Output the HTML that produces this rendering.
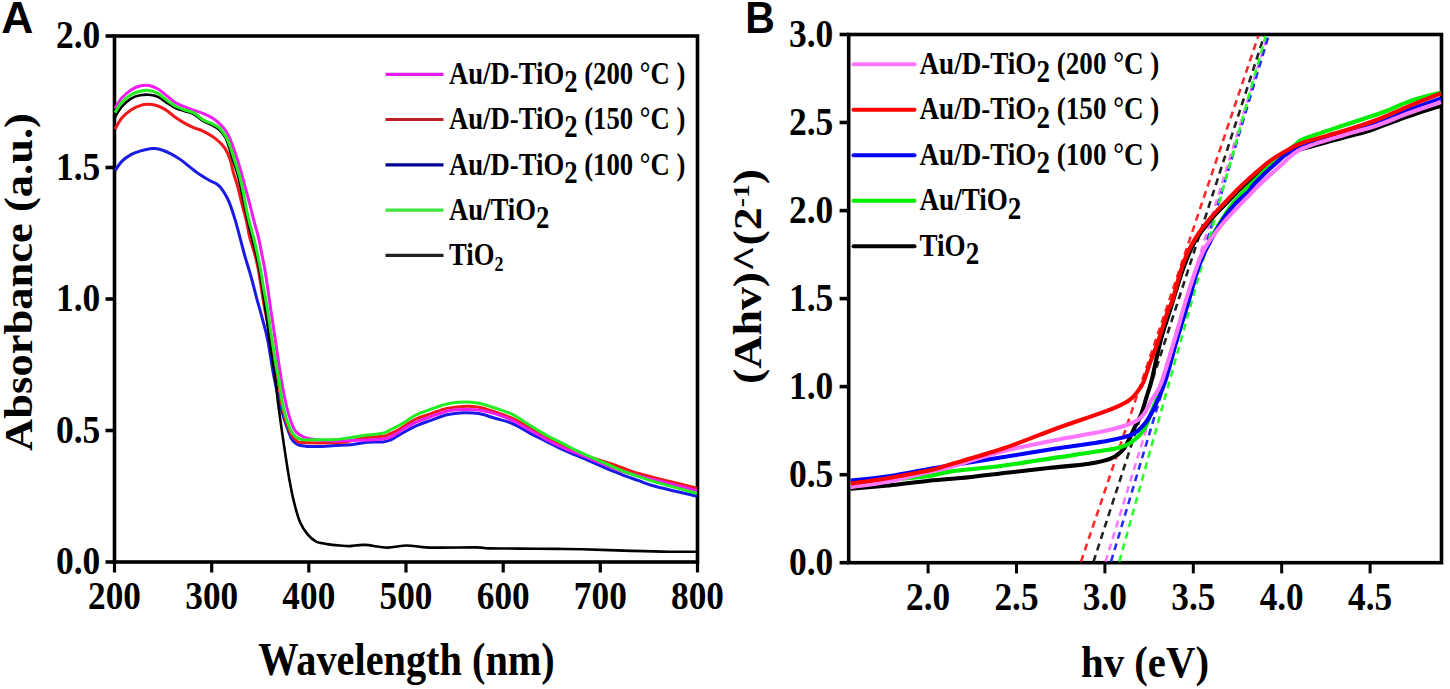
<!DOCTYPE html><html><head><meta charset="utf-8"><style>html,body{margin:0;padding:0;background:#fff;}svg{display:block;}</style></head><body>
<svg width="1450" height="689" viewBox="0 0 1450 689">
<text transform="translate(1.2 33.3) scale(1.085 1.08)" font-family="Liberation Sans" font-weight="bold" font-size="41" >A</text>
<text transform="translate(745.3 33.3) scale(1.0 1.08)" font-family="Liberation Sans" font-weight="bold" font-size="41" >B</text>
<g stroke="#000" stroke-width="3.6" fill="none" stroke-linecap="butt">
<rect x="114.5" y="36.0" width="583.0" height="526.0"/>
<line x1="105.5" y1="562.0" x2="114.5" y2="562.0"/>
<line x1="105.5" y1="430.5" x2="114.5" y2="430.5"/>
<line x1="105.5" y1="299.0" x2="114.5" y2="299.0"/>
<line x1="105.5" y1="167.5" x2="114.5" y2="167.5"/>
<line x1="105.5" y1="36.0" x2="114.5" y2="36.0"/>
<line x1="114.5" y1="562.0" x2="114.5" y2="572.5" stroke-width="3.2"/>
<line x1="211.7" y1="562.0" x2="211.7" y2="572.5" stroke-width="3.2"/>
<line x1="308.8" y1="562.0" x2="308.8" y2="572.5" stroke-width="3.2"/>
<line x1="406.0" y1="562.0" x2="406.0" y2="572.5" stroke-width="3.2"/>
<line x1="503.2" y1="562.0" x2="503.2" y2="572.5" stroke-width="3.2"/>
<line x1="600.3" y1="562.0" x2="600.3" y2="572.5" stroke-width="3.2"/>
<line x1="697.5" y1="562.0" x2="697.5" y2="572.5" stroke-width="3.2"/>
</g>
<text transform="translate(100.3 574.0) scale(1.000 1.120)" font-family="Liberation Serif" font-weight="bold" font-size="35.5" text-anchor="end">0.0</text>
<text transform="translate(100.3 442.5) scale(1.000 1.120)" font-family="Liberation Serif" font-weight="bold" font-size="35.5" text-anchor="end">0.5</text>
<text transform="translate(100.3 311.0) scale(1.000 1.120)" font-family="Liberation Serif" font-weight="bold" font-size="35.5" text-anchor="end">1.0</text>
<text transform="translate(100.3 179.5) scale(1.000 1.120)" font-family="Liberation Serif" font-weight="bold" font-size="35.5" text-anchor="end">1.5</text>
<text transform="translate(100.3 48.0) scale(1.000 1.120)" font-family="Liberation Serif" font-weight="bold" font-size="35.5" text-anchor="end">2.0</text>
<text transform="translate(114.5 609.3) scale(1.000 1.120)" font-family="Liberation Serif" font-weight="bold" font-size="35.3" text-anchor="middle">200</text>
<text transform="translate(211.7 609.3) scale(1.000 1.120)" font-family="Liberation Serif" font-weight="bold" font-size="35.3" text-anchor="middle">300</text>
<text transform="translate(308.8 609.3) scale(1.000 1.120)" font-family="Liberation Serif" font-weight="bold" font-size="35.3" text-anchor="middle">400</text>
<text transform="translate(406.0 609.3) scale(1.000 1.120)" font-family="Liberation Serif" font-weight="bold" font-size="35.3" text-anchor="middle">500</text>
<text transform="translate(503.2 609.3) scale(1.000 1.120)" font-family="Liberation Serif" font-weight="bold" font-size="35.3" text-anchor="middle">600</text>
<text transform="translate(600.3 609.3) scale(1.000 1.120)" font-family="Liberation Serif" font-weight="bold" font-size="35.3" text-anchor="middle">700</text>
<text transform="translate(697.5 609.3) scale(1.000 1.120)" font-family="Liberation Serif" font-weight="bold" font-size="35.3" text-anchor="middle">800</text>
<text transform="translate(406.5 675.0) scale(1.000 1.150)" font-family="Liberation Serif" font-weight="bold" font-size="40.3" text-anchor="middle">Wavelength (nm)</text>
<g transform="translate(32 282) rotate(-90)"><text transform="translate(0.0 0.0) scale(1.100 1.000)" font-family="Liberation Serif" font-weight="bold" font-size="40.5" text-anchor="middle">Absorbance (a.u.)</text></g>
<g fill="none" stroke-width="3.0" stroke-linejoin="round">
<path d="M115.0 170.7 C116.2 169.1 119.3 163.8 122.0 161.1 C124.7 158.4 128.0 156.3 131.0 154.6 C134.0 152.9 137.0 152.0 140.0 151.1 C143.0 150.2 146.5 149.3 149.0 148.9 C151.5 148.5 152.6 148.3 154.9 148.5 C157.2 148.7 159.9 149.3 162.7 150.2 C165.4 151.1 168.5 152.6 171.4 154.1 C174.3 155.6 176.3 156.7 180.1 159.4 C183.9 162.1 190.7 167.7 194.0 170.2 C197.3 172.7 197.2 172.8 199.8 174.5 C202.4 176.2 206.7 178.9 209.6 180.5 C212.5 182.1 215.0 182.7 217.2 184.3 C219.4 185.9 221.0 187.9 222.7 190.3 C224.4 192.7 226.1 195.7 227.5 198.5 C228.9 201.3 229.7 203.2 231.0 207.0 C232.3 210.8 234.1 216.2 235.6 221.3 C237.1 226.4 238.6 232.2 240.0 237.7 C241.4 243.1 242.8 248.6 244.3 254.0 C245.8 259.4 247.8 265.7 249.2 270.4 C250.6 275.1 251.3 277.6 252.5 282.0 C253.7 286.4 254.7 290.7 256.3 296.8 C257.9 302.9 260.4 311.3 262.3 318.6 C264.2 325.9 265.9 330.7 267.8 340.4 C269.8 350.1 271.7 365.4 274.0 377.0 C276.3 388.6 279.2 401.4 281.5 410.0 C283.8 418.6 285.7 423.8 287.6 428.9 C289.5 434.0 290.7 438.1 293.1 440.9 C295.5 443.7 297.8 444.8 301.9 445.7 C306.0 446.6 312.4 446.5 317.9 446.5 C323.4 446.5 329.5 445.8 335.0 445.5 C340.5 445.2 345.7 445.2 351.0 444.7 C356.3 444.2 361.6 442.8 366.9 442.3 C372.2 441.8 378.9 442.3 382.9 441.9 C386.9 441.5 388.2 441.0 390.9 439.9 C393.6 438.8 394.9 437.4 398.9 435.1 C402.9 432.8 409.6 428.8 415.0 426.3 C420.4 423.8 425.7 422.2 431.0 420.3 C436.3 418.4 441.6 416.1 446.9 414.8 C452.2 413.6 457.6 413.0 462.9 412.8 C468.2 412.6 473.5 412.7 478.9 413.6 C484.2 414.5 489.4 416.7 495.0 418.3 C500.6 419.9 506.6 421.0 512.4 423.5 C518.2 426.0 524.0 430.1 529.8 433.1 C535.6 436.2 541.4 438.9 547.2 441.8 C553.0 444.7 560.0 448.3 564.6 450.5 C569.2 452.7 570.6 452.9 575.0 454.8 C579.4 456.7 585.7 459.3 591.0 461.6 C596.3 463.9 601.6 466.4 606.9 468.7 C612.2 470.9 617.6 473.1 622.9 475.1 C628.2 477.1 633.5 478.8 638.9 480.7 C644.2 482.6 645.3 483.7 655.0 486.3 C664.7 488.9 690.0 494.6 697.0 496.2" stroke="#1a1ae6"/>
<path d="M115.0 129.1 C116.2 127.2 119.3 121.0 122.0 117.8 C124.7 114.6 128.0 112.0 131.0 110.0 C134.0 108.0 137.0 106.5 140.0 105.6 C143.0 104.6 146.0 104.2 149.0 104.3 C152.0 104.4 155.0 104.9 158.0 106.0 C161.0 107.1 164.0 108.8 167.0 110.8 C170.0 112.8 173.0 115.7 176.0 117.8 C179.0 119.9 182.0 121.7 185.0 123.4 C188.0 125.1 191.0 126.5 194.0 127.8 C197.0 129.1 199.3 129.3 203.0 131.2 C206.7 133.1 212.5 136.3 216.1 139.1 C219.7 141.9 222.4 144.6 224.8 148.1 C227.2 151.6 228.9 155.9 230.3 160.1 C231.8 164.3 232.2 168.6 233.5 173.1 C234.8 177.6 236.5 182.0 237.9 187.3 C239.3 192.6 240.8 199.3 242.2 205.0 C243.6 210.7 245.2 215.9 246.5 221.3 C247.8 226.8 248.4 232.2 249.8 237.7 C251.2 243.1 253.2 248.6 254.7 254.0 C256.1 259.4 256.9 261.4 258.5 270.4 C260.1 279.3 262.4 296.0 264.5 307.7 C266.6 319.4 269.1 328.7 271.3 340.4 C273.6 352.1 276.2 367.4 278.0 378.0 C279.8 388.6 280.4 396.8 281.8 404.0 C283.2 411.2 284.7 416.5 286.2 421.5 C287.7 426.5 289.4 430.9 291.0 434.0 C292.6 437.1 294.1 438.6 296.0 440.0 C297.9 441.4 295.2 442.1 302.5 442.5 C309.8 442.9 331.9 442.8 340.0 442.5 C348.1 442.2 346.5 441.5 351.0 440.7 C355.5 439.9 361.6 438.2 366.9 437.5 C372.2 436.8 378.9 437.0 382.9 436.3 C386.9 435.6 388.2 434.6 390.9 433.5 C393.6 432.4 394.9 431.8 398.9 429.5 C402.9 427.2 409.6 422.1 415.0 419.5 C420.4 416.9 425.7 415.5 431.0 413.6 C436.3 411.8 441.6 409.6 446.9 408.4 C452.2 407.2 457.6 406.6 462.9 406.4 C468.2 406.2 473.5 406.3 478.9 407.2 C484.2 408.1 489.4 410.1 495.0 412.0 C500.6 413.9 506.6 415.7 512.4 418.3 C518.2 420.9 524.0 424.6 529.8 427.9 C535.6 431.2 541.4 435.1 547.2 438.3 C553.0 441.5 560.0 444.8 564.6 447.0 C569.2 449.2 570.6 449.8 575.0 451.5 C579.4 453.2 585.7 455.7 591.0 457.5 C596.3 459.3 601.6 460.6 606.9 462.4 C612.2 464.1 617.6 466.1 622.9 468.0 C628.2 469.9 633.5 471.9 638.9 473.5 C644.2 475.1 645.3 475.4 655.0 477.9 C664.7 480.3 690.0 486.5 697.0 488.2" stroke="#f01818"/>
<path d="M115.0 116.9 C116.2 115.2 119.3 109.5 122.0 106.5 C124.7 103.5 128.0 100.5 131.0 98.6 C134.0 96.7 137.0 95.9 140.0 95.3 C143.0 94.7 146.0 94.4 149.0 94.7 C152.0 95.0 155.0 95.5 158.0 96.9 C161.0 98.3 164.0 101.1 167.0 103.0 C170.0 104.9 173.0 106.8 176.0 108.2 C179.0 109.6 182.0 110.2 185.0 111.2 C188.0 112.2 191.0 112.7 194.0 114.3 C197.0 115.9 199.9 119.1 203.0 121.0 C206.1 122.9 210.1 124.1 212.8 125.5 C215.5 126.9 217.1 127.8 219.0 129.5 C220.9 131.2 222.7 133.6 224.0 135.5 C225.3 137.4 225.7 137.4 227.0 141.0 C228.3 144.6 230.2 151.5 232.0 157.0 C233.8 162.5 235.9 168.3 237.5 174.0 C239.1 179.7 240.3 185.5 241.5 191.0 C242.7 196.5 243.7 201.8 244.8 207.0 C245.9 212.2 246.8 216.8 248.0 222.0 C249.2 227.2 250.7 232.7 252.0 238.0 C253.3 243.3 254.8 248.6 256.0 254.0 C257.2 259.4 257.9 261.4 259.5 270.4 C261.1 279.3 263.6 295.8 265.3 307.7 C267.0 319.6 268.2 330.3 269.8 342.0 C271.4 353.7 273.8 367.2 275.2 377.7 C276.6 388.2 277.2 396.5 278.3 405.0 C279.4 413.5 280.3 419.7 281.6 428.9 C282.9 438.1 284.9 451.4 286.2 460.0 C287.5 468.6 288.3 473.8 289.6 480.7 C290.9 487.6 292.1 494.4 293.8 501.3 C295.5 508.2 297.7 516.5 300.0 522.0 C302.3 527.5 305.0 531.2 307.6 534.4 C310.2 537.6 312.6 539.7 315.8 541.3 C319.0 542.9 322.9 543.4 326.9 544.1 C330.9 544.8 336.2 545.2 340.0 545.5 C343.8 545.8 345.8 546.2 349.9 546.1 C354.0 546.0 358.6 544.6 364.8 544.9 C371.0 545.1 380.2 547.5 387.2 547.6 C394.2 547.7 400.0 545.5 407.0 545.5 C414.0 545.5 417.8 547.3 429.4 547.6 C441.0 547.9 466.6 547.3 476.5 547.4 C486.4 547.5 481.8 548.2 489.0 548.4 C496.2 548.6 508.6 548.5 520.0 548.6 C531.4 548.7 546.9 548.8 557.2 548.9 C567.5 549.0 569.6 548.9 582.0 549.2 C594.4 549.5 617.2 550.5 631.7 550.9 C646.2 551.3 658.1 551.6 669.0 551.7 C679.9 551.8 692.3 551.7 697.0 551.7" stroke="#000000" stroke-width="2.6"/>
<path d="M115.0 108.2 C116.2 106.5 119.3 100.8 122.0 97.8 C124.7 94.8 128.0 91.9 131.0 89.9 C134.0 87.9 137.0 86.7 140.0 86.0 C143.0 85.3 146.0 85.1 149.0 85.6 C152.0 86.1 155.0 87.3 158.0 89.0 C161.0 90.7 164.0 93.7 167.0 96.0 C170.0 98.3 173.0 101.2 176.0 103.0 C179.0 104.8 182.0 105.7 185.0 106.9 C188.0 108.1 191.0 109.3 194.0 110.4 C197.0 111.5 199.9 112.0 203.0 113.3 C206.1 114.6 210.0 116.4 212.8 118.2 C215.6 120.0 217.9 122.1 220.0 124.1 C222.1 126.1 223.6 127.6 225.2 130.0 C226.8 132.4 228.1 134.3 229.8 138.4 C231.6 142.5 233.8 149.0 235.7 154.6 C237.6 160.2 239.5 166.4 241.1 172.0 C242.7 177.6 244.0 182.9 245.5 188.4 C247.0 193.9 248.6 199.5 250.0 205.0 C251.4 210.5 252.7 215.9 254.1 221.3 C255.5 226.8 257.2 232.2 258.5 237.7 C259.8 243.1 260.7 248.6 261.8 254.0 C262.9 259.4 264.0 264.4 265.0 270.4 C266.0 276.4 267.1 283.8 268.0 290.0 C268.9 296.2 269.3 299.3 270.5 307.7 C271.7 316.1 273.8 330.0 275.4 340.4 C276.9 350.8 278.4 361.4 279.8 370.0 C281.2 378.6 282.3 385.7 283.5 392.0 C284.7 398.3 285.8 403.2 287.0 408.0 C288.2 412.8 289.4 417.1 290.8 421.0 C292.2 424.9 293.4 428.7 295.5 431.3 C297.6 433.9 300.3 435.5 303.5 436.9 C306.7 438.3 309.4 438.8 314.7 439.5 C319.9 440.2 328.9 440.8 335.0 441.0 C341.1 441.2 345.7 440.7 351.0 440.5 C356.3 440.3 360.9 440.3 366.9 439.9 C372.9 439.5 380.9 440.0 386.9 438.3 C392.9 436.6 398.2 432.1 402.9 429.5 C407.6 426.9 410.3 424.8 415.0 422.7 C419.7 420.6 425.7 418.6 431.0 416.7 C436.3 414.8 441.6 412.4 446.9 411.2 C452.2 410.0 457.6 409.8 462.9 409.6 C468.2 409.4 473.5 409.3 478.9 410.0 C484.2 410.7 489.4 411.9 495.0 413.6 C500.6 415.4 506.6 417.8 512.4 420.5 C518.2 423.2 524.0 426.8 529.8 430.0 C535.6 433.2 541.4 436.9 547.2 440.0 C553.0 443.1 560.0 446.4 564.6 448.5 C569.2 450.6 570.6 450.8 575.0 452.5 C579.4 454.2 585.7 456.8 591.0 459.0 C596.3 461.2 601.6 463.4 606.9 465.5 C612.2 467.6 617.6 469.8 622.9 471.5 C628.2 473.2 633.5 474.6 638.9 476.0 C644.2 477.4 645.3 477.5 655.0 479.9 C664.7 482.3 690.0 488.8 697.0 490.6" stroke="#f01cf0"/>
<path d="M115.0 112.6 C116.2 110.8 119.3 105.1 122.0 102.1 C124.7 99.1 128.0 96.5 131.0 94.7 C134.0 92.9 137.0 91.9 140.0 91.2 C143.0 90.5 146.0 90.0 149.0 90.4 C152.0 90.8 155.0 91.7 158.0 93.4 C161.0 95.1 164.0 98.2 167.0 100.4 C170.0 102.6 173.0 104.9 176.0 106.5 C179.0 108.1 182.0 108.9 185.0 110.0 C188.0 111.1 191.0 111.4 194.0 113.0 C197.0 114.6 199.9 118.0 203.0 119.8 C206.1 121.6 210.1 122.7 212.8 124.1 C215.5 125.5 217.5 126.4 219.4 128.0 C221.3 129.6 222.6 131.8 224.0 133.9 C225.4 136.0 226.3 136.6 227.9 140.4 C229.5 144.2 231.7 151.2 233.5 156.8 C235.3 162.4 237.4 168.5 239.0 174.2 C240.6 179.9 241.8 185.5 243.0 191.0 C244.2 196.5 245.0 201.9 246.0 207.0 C247.0 212.1 247.9 216.2 249.2 221.3 C250.5 226.4 252.2 232.2 253.6 237.7 C255.0 243.1 256.2 248.6 257.4 254.0 C258.6 259.4 259.6 264.4 260.7 270.4 C261.8 276.4 262.9 283.8 264.0 290.0 C265.1 296.2 265.8 299.3 267.2 307.7 C268.6 316.1 270.6 330.8 272.1 340.4 C273.6 349.9 274.9 358.4 276.0 365.0 C277.1 371.6 277.9 373.3 279.0 380.0 C280.1 386.7 281.4 398.2 282.8 405.0 C284.2 411.8 285.6 416.4 287.2 421.0 C288.8 425.6 290.1 429.8 292.3 432.9 C294.5 435.9 296.0 438.2 300.3 439.3 C304.6 440.4 312.1 439.7 317.9 439.7 C323.7 439.7 329.5 439.9 335.0 439.5 C340.5 439.1 345.7 438.2 351.0 437.5 C356.3 436.8 361.6 435.8 366.9 435.1 C372.2 434.4 378.9 434.0 382.9 433.1 C386.9 432.2 388.2 430.8 390.9 429.5 C393.6 428.2 396.2 426.9 398.9 425.5 C401.6 424.1 404.2 422.5 406.9 420.8 C409.6 419.1 411.0 417.4 415.0 415.5 C419.0 413.6 425.7 411.1 431.0 409.2 C436.3 407.3 441.6 405.2 446.9 404.0 C452.2 402.8 457.6 402.1 462.9 402.0 C468.2 401.9 473.5 402.2 478.9 403.2 C484.2 404.2 489.4 406.1 495.0 408.0 C500.6 409.9 506.6 411.5 512.4 414.4 C518.2 417.3 524.0 421.6 529.8 425.2 C535.6 428.8 541.4 432.5 547.2 435.7 C553.0 438.9 560.0 442.0 564.6 444.4 C569.2 446.8 570.6 447.7 575.0 449.8 C579.4 451.9 585.7 454.8 591.0 457.2 C596.3 459.6 601.6 461.7 606.9 464.0 C612.2 466.3 617.6 469.0 622.9 471.1 C628.2 473.2 633.5 474.9 638.9 476.7 C644.2 478.5 645.3 479.1 655.0 481.9 C664.7 484.7 690.0 491.5 697.0 493.4" stroke="#22ee22"/>
</g>
<line x1="385.5" y1="74.3" x2="443.5" y2="74.3" stroke="#e01ce8" stroke-width="3.2"/>
<text transform="translate(449.0 84.0) scale(1.000 1.180)" font-family="Liberation Serif" font-weight="bold" font-size="26.7" text-anchor="start">Au/D-TiO<tspan dy="7">2</tspan><tspan dy="-7"> (200 °C )</tspan></text>
<line x1="385.5" y1="119.5" x2="443.5" y2="119.5" stroke="#be1e24" stroke-width="3.2"/>
<text transform="translate(449.0 129.2) scale(1.000 1.180)" font-family="Liberation Serif" font-weight="bold" font-size="26.7" text-anchor="start">Au/D-TiO<tspan dy="7">2</tspan><tspan dy="-7"> (150 °C )</tspan></text>
<line x1="385.5" y1="164.8" x2="443.5" y2="164.8" stroke="#000090" stroke-width="3.2"/>
<text transform="translate(449.0 174.5) scale(1.000 1.180)" font-family="Liberation Serif" font-weight="bold" font-size="26.7" text-anchor="start">Au/D-TiO<tspan dy="7">2</tspan><tspan dy="-7"> (100 °C )</tspan></text>
<line x1="385.5" y1="210.1" x2="443.5" y2="210.1" stroke="#3ce63c" stroke-width="3.2"/>
<text transform="translate(449.0 219.8) scale(1.000 1.180)" font-family="Liberation Serif" font-weight="bold" font-size="26.7" text-anchor="start">Au/TiO<tspan dy="7">2</tspan></text>
<line x1="385.5" y1="255.3" x2="443.5" y2="255.3" stroke="#222222" stroke-width="3.2"/>
<text transform="translate(449.0 265.0) scale(1.000 1.180)" font-family="Liberation Serif" font-weight="bold" font-size="26.7" text-anchor="start">TiO<tspan dy="5" font-size="18">2</tspan></text>
<g stroke="#000" stroke-width="3.6" fill="none">
<rect x="848.7" y="34.5" width="592.8" height="528.2"/>
<line x1="839.6" y1="562.7" x2="848.7" y2="562.7"/>
<line x1="839.6" y1="474.7" x2="848.7" y2="474.7"/>
<line x1="839.6" y1="386.6" x2="848.7" y2="386.6"/>
<line x1="839.6" y1="298.6" x2="848.7" y2="298.6"/>
<line x1="839.6" y1="210.6" x2="848.7" y2="210.6"/>
<line x1="839.6" y1="122.5" x2="848.7" y2="122.5"/>
<line x1="839.6" y1="34.5" x2="848.7" y2="34.5"/>
<line x1="928.1" y1="562.7" x2="928.1" y2="573.4" stroke-width="3"/>
<line x1="1016.5" y1="562.7" x2="1016.5" y2="573.4" stroke-width="3"/>
<line x1="1104.9" y1="562.7" x2="1104.9" y2="573.4" stroke-width="3"/>
<line x1="1193.3" y1="562.7" x2="1193.3" y2="573.4" stroke-width="3"/>
<line x1="1281.7" y1="562.7" x2="1281.7" y2="573.4" stroke-width="3"/>
<line x1="1370.1" y1="562.7" x2="1370.1" y2="573.4" stroke-width="3"/>
</g>
<text transform="translate(833.3 575.0) scale(1.000 1.120)" font-family="Liberation Serif" font-weight="bold" font-size="35.5" text-anchor="end">0.0</text>
<text transform="translate(833.3 487.0) scale(1.000 1.120)" font-family="Liberation Serif" font-weight="bold" font-size="35.5" text-anchor="end">0.5</text>
<text transform="translate(833.3 398.9) scale(1.000 1.120)" font-family="Liberation Serif" font-weight="bold" font-size="35.5" text-anchor="end">1.0</text>
<text transform="translate(833.3 310.9) scale(1.000 1.120)" font-family="Liberation Serif" font-weight="bold" font-size="35.5" text-anchor="end">1.5</text>
<text transform="translate(833.3 222.9) scale(1.000 1.120)" font-family="Liberation Serif" font-weight="bold" font-size="35.5" text-anchor="end">2.0</text>
<text transform="translate(833.3 134.8) scale(1.000 1.120)" font-family="Liberation Serif" font-weight="bold" font-size="35.5" text-anchor="end">2.5</text>
<text transform="translate(833.3 46.8) scale(1.000 1.120)" font-family="Liberation Serif" font-weight="bold" font-size="35.5" text-anchor="end">3.0</text>
<text transform="translate(928.1 610.3) scale(1.000 1.120)" font-family="Liberation Serif" font-weight="bold" font-size="35.3" text-anchor="middle">2.0</text>
<text transform="translate(1016.5 610.3) scale(1.000 1.120)" font-family="Liberation Serif" font-weight="bold" font-size="35.3" text-anchor="middle">2.5</text>
<text transform="translate(1104.9 610.3) scale(1.000 1.120)" font-family="Liberation Serif" font-weight="bold" font-size="35.3" text-anchor="middle">3.0</text>
<text transform="translate(1193.3 610.3) scale(1.000 1.120)" font-family="Liberation Serif" font-weight="bold" font-size="35.3" text-anchor="middle">3.5</text>
<text transform="translate(1281.7 610.3) scale(1.000 1.120)" font-family="Liberation Serif" font-weight="bold" font-size="35.3" text-anchor="middle">4.0</text>
<text transform="translate(1370.1 610.3) scale(1.000 1.120)" font-family="Liberation Serif" font-weight="bold" font-size="35.3" text-anchor="middle">4.5</text>
<text transform="translate(1145.0 677.0) scale(1.000 1.100)" font-family="Liberation Serif" font-weight="bold" font-size="40.8" text-anchor="middle">hv (eV)</text>
<g transform="translate(760.5 276.5) rotate(-90)"><text transform="translate(0.0 0.0) scale(1.145 1.000)" font-family="Liberation Serif" font-weight="bold" font-size="40.0" text-anchor="middle">(Ahv)^(2<tspan dy="-12" font-size="24">-1</tspan><tspan dy="12">)</tspan></text></g>
<g fill="none" stroke-width="2.6" stroke-dasharray="7 5">
<line x1="1081.0" y1="561.7" x2="1258.3" y2="36" stroke="#ff2a2a"/>
<line x1="1093.5" y1="561.7" x2="1264.1" y2="36" stroke="#222222"/>
<line x1="1105.5" y1="561.7" x2="1267.4" y2="36" stroke="#ff77ff"/>
<line x1="1111.0" y1="561.7" x2="1268.5" y2="36" stroke="#2a2aff"/>
<line x1="1119.3" y1="561.7" x2="1265.6" y2="36" stroke="#2aff2a"/>
</g>
<g fill="none" stroke-width="4.1" stroke-linejoin="round">
<path d="M850.6 488.7 C857.0 488.2 875.8 486.8 888.9 485.5 C902.0 484.2 915.6 482.1 929.0 480.7 C942.4 479.3 955.7 478.6 969.0 477.2 C982.3 475.8 995.7 474.0 1009.0 472.5 C1022.3 471.0 1035.3 469.5 1048.6 468.0 C1061.9 466.5 1078.6 465.3 1089.0 463.7 C1099.4 462.1 1105.3 461.0 1111.2 458.4 C1117.1 455.8 1120.4 453.2 1124.3 448.0 C1128.2 442.8 1132.0 432.8 1134.8 427.1 C1137.6 421.4 1139.3 419.0 1141.3 414.0 C1143.2 409.0 1144.8 402.7 1146.5 397.0 C1148.2 391.3 1149.4 389.3 1151.7 380.0 C1154.0 370.7 1157.5 352.6 1160.5 341.0 C1163.5 329.4 1166.6 321.5 1170.0 310.5 C1173.4 299.5 1177.9 284.1 1181.0 274.8 C1184.1 265.6 1186.1 260.7 1188.5 255.0 C1190.9 249.3 1192.8 245.1 1195.5 240.5 C1198.2 235.9 1201.3 231.7 1204.5 227.5 C1207.7 223.3 1211.0 219.4 1214.5 215.5 C1218.0 211.6 1221.6 208.1 1225.5 204.0 C1229.4 199.9 1233.8 195.2 1238.0 191.0 C1242.2 186.8 1245.7 183.6 1251.0 179.0 C1256.3 174.4 1263.8 167.8 1270.0 163.5 C1276.2 159.2 1282.2 156.1 1288.0 153.5 C1293.8 150.9 1295.4 150.9 1305.0 148.1 C1314.6 145.3 1334.9 139.8 1345.7 136.9 C1356.5 134.0 1362.0 133.1 1370.0 130.5 C1378.0 127.9 1386.2 124.2 1393.7 121.5 C1401.2 118.8 1407.1 116.6 1415.0 114.0 C1422.9 111.4 1436.7 107.2 1441.0 105.9" stroke="#000000"/>
<path d="M850.6 485.0 C857.0 484.2 875.8 481.5 888.9 480.0 C902.0 478.5 918.8 477.3 929.0 475.9 C939.2 474.5 937.8 473.3 950.0 471.6 C962.2 469.9 984.8 468.1 1002.2 465.8 C1019.6 463.5 1037.1 460.5 1054.5 457.9 C1071.9 455.3 1095.8 451.9 1106.7 450.1 C1117.6 448.3 1116.0 448.5 1120.0 447.3 C1124.0 446.1 1126.8 445.6 1130.8 442.7 C1134.8 439.8 1140.2 435.5 1143.9 429.7 C1147.6 423.9 1149.8 415.8 1153.0 408.0 C1156.2 400.2 1159.3 394.2 1163.0 383.0 C1166.7 371.8 1170.8 354.8 1175.0 341.0 C1179.2 327.2 1184.7 311.0 1188.0 300.0 C1191.3 289.0 1192.7 282.3 1195.0 275.0 C1197.3 267.7 1199.8 261.3 1202.0 256.0 C1204.2 250.7 1206.2 247.3 1208.5 243.0 C1210.8 238.7 1213.0 234.3 1215.5 230.0 C1218.0 225.7 1220.6 221.5 1223.5 217.0 C1226.4 212.5 1229.3 207.7 1233.1 203.0 C1236.9 198.3 1242.5 192.9 1246.2 189.0 C1249.9 185.1 1250.5 184.5 1255.4 179.7 C1260.3 174.9 1268.9 166.3 1275.7 160.4 C1282.5 154.5 1291.2 147.8 1296.1 144.1 C1301.0 140.4 1296.7 141.6 1305.0 138.4 C1313.3 135.2 1334.9 128.3 1345.7 124.7 C1356.5 121.1 1363.5 119.0 1370.0 116.8 C1376.5 114.6 1378.3 114.1 1385.0 111.5 C1391.7 108.9 1400.7 104.3 1410.0 101.1 C1419.3 97.9 1435.8 93.9 1441.0 92.4" stroke="#00ee00"/>
<path d="M850.6 480.7 C857.0 480.0 875.8 478.2 888.9 476.3 C902.0 474.4 918.8 470.8 929.0 469.0 C939.2 467.2 937.8 467.4 950.0 465.5 C962.2 463.6 984.8 460.1 1002.2 457.3 C1019.6 454.5 1037.1 451.5 1054.5 448.8 C1071.9 446.1 1093.8 443.3 1106.7 440.9 C1119.6 438.5 1125.7 437.5 1132.1 434.5 C1138.5 431.5 1141.5 427.6 1145.2 423.1 C1148.9 418.6 1151.1 414.2 1154.4 407.5 C1157.7 400.8 1161.1 393.7 1164.8 382.6 C1168.5 371.5 1172.5 354.8 1176.5 341.0 C1180.5 327.2 1185.8 311.0 1189.0 300.0 C1192.2 289.0 1193.7 282.3 1196.0 275.0 C1198.3 267.7 1200.8 261.3 1203.0 256.0 C1205.2 250.7 1207.2 247.3 1209.5 243.0 C1211.8 238.7 1213.9 234.5 1216.5 230.0 C1219.1 225.5 1222.0 220.6 1225.3 216.0 C1228.6 211.4 1232.7 206.6 1236.6 202.5 C1240.5 198.4 1245.7 194.6 1248.8 191.3 C1251.9 188.0 1250.9 187.4 1255.4 182.8 C1259.9 178.2 1268.9 169.3 1275.7 163.5 C1282.5 157.7 1284.4 153.4 1296.1 148.2 C1307.8 143.0 1332.2 136.8 1345.7 132.5 C1359.2 128.2 1366.5 126.2 1377.0 122.5 C1387.5 118.8 1398.3 114.0 1409.0 110.0 C1419.7 106.0 1435.7 100.4 1441.0 98.5" stroke="#0000ff"/>
<path d="M850.6 487.1 C857.0 486.2 875.8 484.0 888.9 481.5 C902.0 479.0 918.8 474.4 929.0 472.0 C939.2 469.6 937.8 470.4 950.0 467.0 C962.2 463.6 984.8 455.8 1002.2 451.4 C1019.6 446.9 1037.1 443.8 1054.5 440.3 C1071.9 436.8 1093.5 433.5 1106.7 430.5 C1119.9 427.5 1127.2 425.2 1133.4 422.5 C1139.6 419.8 1140.9 417.8 1143.9 414.0 C1147.0 410.2 1148.9 404.6 1151.7 399.6 C1154.5 394.6 1157.2 393.7 1160.9 383.9 C1164.7 374.1 1170.0 355.0 1174.2 341.0 C1178.4 327.0 1182.7 311.0 1186.0 300.0 C1189.3 289.0 1191.5 282.3 1194.0 275.0 C1196.5 267.7 1198.7 261.3 1201.0 256.0 C1203.3 250.7 1205.5 247.0 1208.0 243.0 C1210.5 239.0 1213.0 235.9 1216.0 232.0 C1219.0 228.1 1222.4 223.8 1226.1 219.5 C1229.8 215.2 1234.5 210.5 1238.3 206.5 C1242.1 202.5 1245.1 199.5 1248.8 195.7 C1252.5 191.9 1255.2 188.8 1260.5 183.8 C1265.8 178.8 1274.0 171.3 1280.8 165.5 C1287.6 159.7 1290.3 154.4 1301.1 149.2 C1311.9 144.0 1333.0 138.4 1345.7 134.5 C1358.4 130.6 1366.5 129.1 1377.0 125.5 C1387.5 121.9 1398.3 116.9 1409.0 113.0 C1419.7 109.1 1435.7 103.8 1441.0 102.0" stroke="#ff77ff"/>
<path d="M850.6 483.5 C857.0 482.6 875.8 480.1 888.9 477.9 C902.0 475.7 918.8 472.7 929.0 470.5 C939.2 468.3 937.8 468.1 950.0 464.5 C962.2 460.9 984.8 454.7 1002.2 448.8 C1019.6 442.9 1037.1 435.5 1054.5 429.2 C1071.9 422.9 1094.4 415.6 1106.7 410.9 C1119.0 406.2 1123.1 404.1 1128.2 400.9 C1133.3 397.7 1134.9 394.9 1137.4 391.8 C1140.0 388.7 1141.4 386.8 1143.5 382.0 C1145.6 377.2 1147.5 369.8 1150.0 363.0 C1152.5 356.2 1155.2 349.8 1158.2 341.0 C1161.2 332.2 1165.7 317.3 1168.1 310.5 C1170.5 303.7 1170.7 305.9 1172.6 300.0 C1174.5 294.1 1177.2 282.5 1179.6 274.8 C1182.0 267.1 1184.4 260.0 1187.0 254.0 C1189.6 248.0 1192.2 243.7 1195.0 239.0 C1197.8 234.3 1200.8 230.2 1204.0 226.0 C1207.2 221.8 1210.5 217.9 1214.0 214.0 C1217.5 210.1 1221.1 206.6 1225.0 202.5 C1228.9 198.4 1233.3 193.7 1237.5 189.5 C1241.7 185.3 1244.8 182.3 1250.3 177.5 C1255.8 172.7 1263.9 165.3 1270.7 160.4 C1277.5 155.5 1285.3 151.3 1291.0 148.2 C1296.7 145.1 1295.9 145.0 1305.0 142.0 C1314.1 139.0 1333.6 134.1 1345.7 130.3 C1357.8 126.6 1367.1 123.6 1377.7 119.5 C1388.3 115.4 1399.0 110.2 1409.6 105.8 C1420.1 101.4 1435.8 95.4 1441.0 93.3" stroke="#ff0000"/>
</g>
<line x1="853.5" y1="64.2" x2="914.5" y2="64.2" stroke="#ff77ff" stroke-width="4" stroke-linecap="round"/>
<text transform="translate(919.5 73.9) scale(1.000 1.170)" font-family="Liberation Serif" font-weight="bold" font-size="27.1" text-anchor="start">Au/D-TiO<tspan dy="7">2</tspan><tspan dy="-7"> (200 °C )</tspan></text>
<line x1="853.5" y1="109.7" x2="914.5" y2="109.7" stroke="#ff0000" stroke-width="4" stroke-linecap="round"/>
<text transform="translate(919.5 119.4) scale(1.000 1.170)" font-family="Liberation Serif" font-weight="bold" font-size="27.1" text-anchor="start">Au/D-TiO<tspan dy="7">2</tspan><tspan dy="-7"> (150 °C )</tspan></text>
<line x1="853.5" y1="155.2" x2="914.5" y2="155.2" stroke="#0000ff" stroke-width="4" stroke-linecap="round"/>
<text transform="translate(919.5 164.9) scale(1.000 1.170)" font-family="Liberation Serif" font-weight="bold" font-size="27.1" text-anchor="start">Au/D-TiO<tspan dy="7">2</tspan><tspan dy="-7"> (100 °C )</tspan></text>
<line x1="853.5" y1="200.7" x2="914.5" y2="200.7" stroke="#00ee00" stroke-width="4" stroke-linecap="round"/>
<text transform="translate(919.5 210.4) scale(1.000 1.170)" font-family="Liberation Serif" font-weight="bold" font-size="27.1" text-anchor="start">Au/TiO<tspan dy="7">2</tspan></text>
<line x1="853.5" y1="246.2" x2="914.5" y2="246.2" stroke="#000000" stroke-width="4" stroke-linecap="round"/>
<text transform="translate(919.5 255.9) scale(1.000 1.170)" font-family="Liberation Serif" font-weight="bold" font-size="27.1" text-anchor="start">TiO<tspan dy="7">2</tspan></text>
</svg></body></html>
